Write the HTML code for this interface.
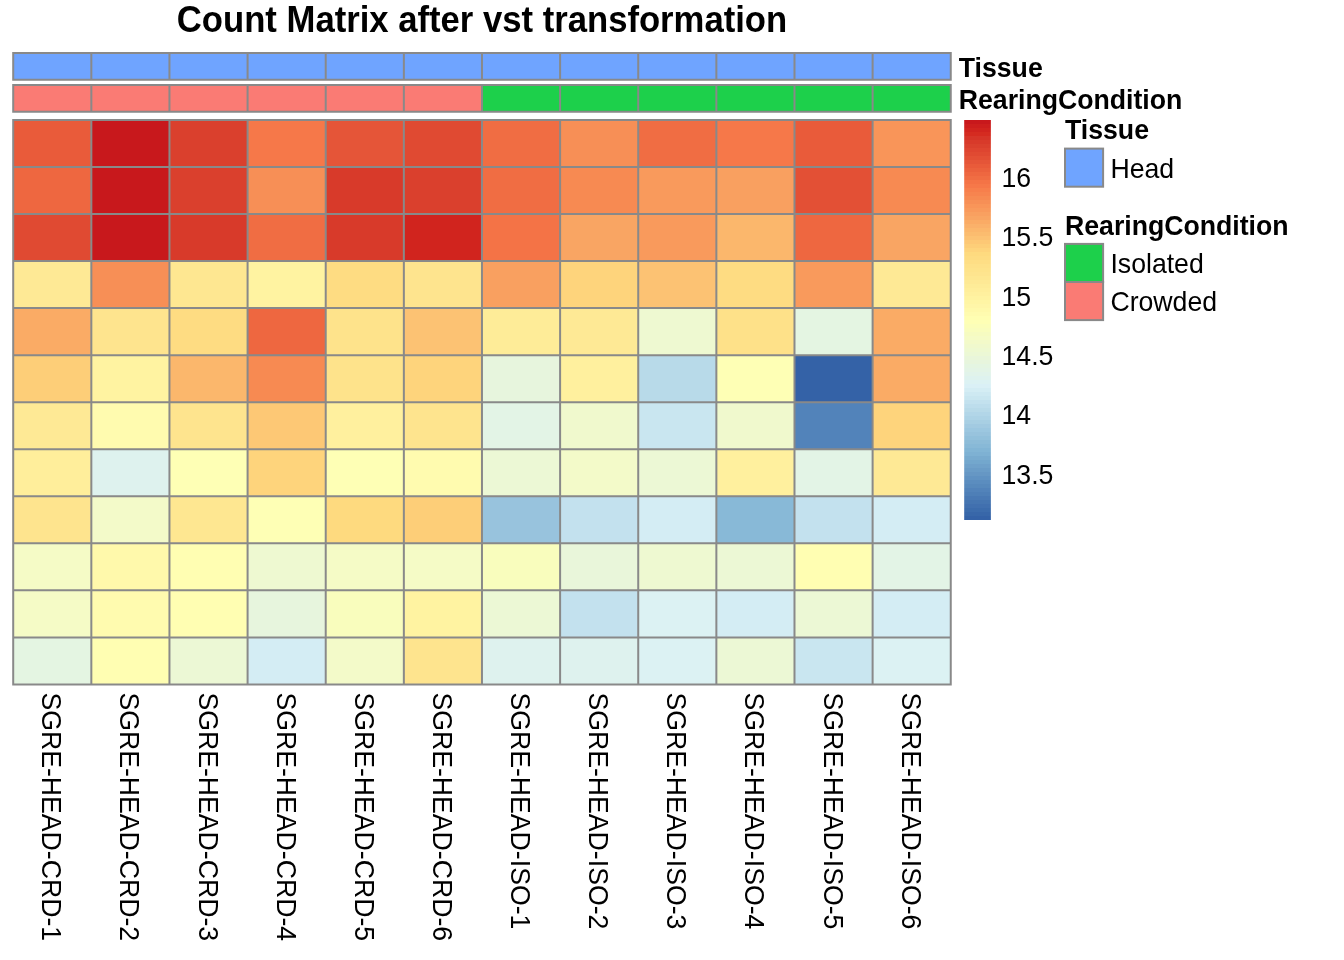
<!DOCTYPE html>
<html><head><meta charset="utf-8"><title>Count Matrix after vst transformation</title>
<style>html,body{margin:0;padding:0;background:#fff;}svg{display:block;will-change:transform;}text{font-family:"Liberation Sans",sans-serif;fill:#000;}</style></head><body>
<svg width="1344" height="960" viewBox="0 0 1344 960">
<rect x="0" y="0" width="1344" height="960" fill="#fff"/>
<text transform="translate(482.00 32.30) scale(1 1.05)" font-size="34.67" font-weight="bold" text-anchor="middle">Count Matrix after vst transformation</text>
<rect x="13.20" y="53.10" width="78.13" height="26.67" fill="#6FA4FF"/>
<rect x="13.20" y="85.10" width="78.13" height="26.67" fill="#FA7B74"/>
<rect x="91.33" y="53.10" width="78.13" height="26.67" fill="#6FA4FF"/>
<rect x="91.33" y="85.10" width="78.13" height="26.67" fill="#FA7B74"/>
<rect x="169.46" y="53.10" width="78.13" height="26.67" fill="#6FA4FF"/>
<rect x="169.46" y="85.10" width="78.13" height="26.67" fill="#FA7B74"/>
<rect x="247.59" y="53.10" width="78.13" height="26.67" fill="#6FA4FF"/>
<rect x="247.59" y="85.10" width="78.13" height="26.67" fill="#FA7B74"/>
<rect x="325.72" y="53.10" width="78.13" height="26.67" fill="#6FA4FF"/>
<rect x="325.72" y="85.10" width="78.13" height="26.67" fill="#FA7B74"/>
<rect x="403.85" y="53.10" width="78.13" height="26.67" fill="#6FA4FF"/>
<rect x="403.85" y="85.10" width="78.13" height="26.67" fill="#FA7B74"/>
<rect x="481.97" y="53.10" width="78.13" height="26.67" fill="#6FA4FF"/>
<rect x="481.97" y="85.10" width="78.13" height="26.67" fill="#1DD04B"/>
<rect x="560.10" y="53.10" width="78.13" height="26.67" fill="#6FA4FF"/>
<rect x="560.10" y="85.10" width="78.13" height="26.67" fill="#1DD04B"/>
<rect x="638.23" y="53.10" width="78.13" height="26.67" fill="#6FA4FF"/>
<rect x="638.23" y="85.10" width="78.13" height="26.67" fill="#1DD04B"/>
<rect x="716.36" y="53.10" width="78.13" height="26.67" fill="#6FA4FF"/>
<rect x="716.36" y="85.10" width="78.13" height="26.67" fill="#1DD04B"/>
<rect x="794.49" y="53.10" width="78.13" height="26.67" fill="#6FA4FF"/>
<rect x="794.49" y="85.10" width="78.13" height="26.67" fill="#1DD04B"/>
<rect x="872.62" y="53.10" width="78.13" height="26.67" fill="#6FA4FF"/>
<rect x="872.62" y="85.10" width="78.13" height="26.67" fill="#1DD04B"/>
<rect x="13.20" y="119.90" width="78.13" height="47.05" fill="#E95B3A"/>
<rect x="91.33" y="119.90" width="78.13" height="47.05" fill="#C8181C"/>
<rect x="169.46" y="119.90" width="78.13" height="47.05" fill="#DA402D"/>
<rect x="247.59" y="119.90" width="78.13" height="47.05" fill="#F67849"/>
<rect x="325.72" y="119.90" width="78.13" height="47.05" fill="#E55538"/>
<rect x="403.85" y="119.90" width="78.13" height="47.05" fill="#E04A32"/>
<rect x="481.97" y="119.90" width="78.13" height="47.05" fill="#F06D43"/>
<rect x="560.10" y="119.90" width="78.13" height="47.05" fill="#F78F56"/>
<rect x="638.23" y="119.90" width="78.13" height="47.05" fill="#F06D43"/>
<rect x="716.36" y="119.90" width="78.13" height="47.05" fill="#F67849"/>
<rect x="794.49" y="119.90" width="78.13" height="47.05" fill="#E95B3A"/>
<rect x="872.62" y="119.90" width="78.13" height="47.05" fill="#F99559"/>
<rect x="13.20" y="166.95" width="78.13" height="47.05" fill="#EE6740"/>
<rect x="91.33" y="166.95" width="78.13" height="47.05" fill="#C8181C"/>
<rect x="169.46" y="166.95" width="78.13" height="47.05" fill="#DA402D"/>
<rect x="247.59" y="166.95" width="78.13" height="47.05" fill="#F78F56"/>
<rect x="325.72" y="166.95" width="78.13" height="47.05" fill="#D83A2A"/>
<rect x="403.85" y="166.95" width="78.13" height="47.05" fill="#DA402D"/>
<rect x="481.97" y="166.95" width="78.13" height="47.05" fill="#F06D43"/>
<rect x="560.10" y="166.95" width="78.13" height="47.05" fill="#F78A52"/>
<rect x="638.23" y="166.95" width="78.13" height="47.05" fill="#F99A5C"/>
<rect x="716.36" y="166.95" width="78.13" height="47.05" fill="#F9A060"/>
<rect x="794.49" y="166.95" width="78.13" height="47.05" fill="#E35035"/>
<rect x="872.62" y="166.95" width="78.13" height="47.05" fill="#F78A52"/>
<rect x="13.20" y="213.99" width="78.13" height="47.05" fill="#E04A32"/>
<rect x="91.33" y="213.99" width="78.13" height="47.05" fill="#C8181C"/>
<rect x="169.46" y="213.99" width="78.13" height="47.05" fill="#D83A2A"/>
<rect x="247.59" y="213.99" width="78.13" height="47.05" fill="#F06D43"/>
<rect x="325.72" y="213.99" width="78.13" height="47.05" fill="#D83A2A"/>
<rect x="403.85" y="213.99" width="78.13" height="47.05" fill="#D1241E"/>
<rect x="481.97" y="213.99" width="78.13" height="47.05" fill="#F47346"/>
<rect x="560.10" y="213.99" width="78.13" height="47.05" fill="#F9A563"/>
<rect x="638.23" y="213.99" width="78.13" height="47.05" fill="#F99A5C"/>
<rect x="716.36" y="213.99" width="78.13" height="47.05" fill="#FBB76C"/>
<rect x="794.49" y="213.99" width="78.13" height="47.05" fill="#EE6740"/>
<rect x="872.62" y="213.99" width="78.13" height="47.05" fill="#F9A563"/>
<rect x="13.20" y="261.04" width="78.13" height="47.05" fill="#FEE995"/>
<rect x="91.33" y="261.04" width="78.13" height="47.05" fill="#F78F56"/>
<rect x="169.46" y="261.04" width="78.13" height="47.05" fill="#FEE791"/>
<rect x="247.59" y="261.04" width="78.13" height="47.05" fill="#FFF3A1"/>
<rect x="325.72" y="261.04" width="78.13" height="47.05" fill="#FEDC82"/>
<rect x="403.85" y="261.04" width="78.13" height="47.05" fill="#FEE48E"/>
<rect x="481.97" y="261.04" width="78.13" height="47.05" fill="#F9A060"/>
<rect x="560.10" y="261.04" width="78.13" height="47.05" fill="#FED47C"/>
<rect x="638.23" y="261.04" width="78.13" height="47.05" fill="#FCC273"/>
<rect x="716.36" y="261.04" width="78.13" height="47.05" fill="#FEDC82"/>
<rect x="794.49" y="261.04" width="78.13" height="47.05" fill="#F99A5C"/>
<rect x="872.62" y="261.04" width="78.13" height="47.05" fill="#FEE995"/>
<rect x="13.20" y="308.08" width="78.13" height="47.05" fill="#FAAB65"/>
<rect x="91.33" y="308.08" width="78.13" height="47.05" fill="#FEE48E"/>
<rect x="169.46" y="308.08" width="78.13" height="47.05" fill="#FEDC82"/>
<rect x="247.59" y="308.08" width="78.13" height="47.05" fill="#EE6740"/>
<rect x="325.72" y="308.08" width="78.13" height="47.05" fill="#FEE38B"/>
<rect x="403.85" y="308.08" width="78.13" height="47.05" fill="#FCC273"/>
<rect x="481.97" y="308.08" width="78.13" height="47.05" fill="#FEEC98"/>
<rect x="560.10" y="308.08" width="78.13" height="47.05" fill="#FEE995"/>
<rect x="638.23" y="308.08" width="78.13" height="47.05" fill="#EEF9D1"/>
<rect x="716.36" y="308.08" width="78.13" height="47.05" fill="#FEE189"/>
<rect x="794.49" y="308.08" width="78.13" height="47.05" fill="#E4F5E2"/>
<rect x="872.62" y="308.08" width="78.13" height="47.05" fill="#FAAB65"/>
<rect x="13.20" y="355.13" width="78.13" height="47.05" fill="#FDCE78"/>
<rect x="91.33" y="355.13" width="78.13" height="47.05" fill="#FFF3A1"/>
<rect x="169.46" y="355.13" width="78.13" height="47.05" fill="#FBB76C"/>
<rect x="247.59" y="355.13" width="78.13" height="47.05" fill="#F78A52"/>
<rect x="325.72" y="355.13" width="78.13" height="47.05" fill="#FEE38B"/>
<rect x="403.85" y="355.13" width="78.13" height="47.05" fill="#FED47C"/>
<rect x="481.97" y="355.13" width="78.13" height="47.05" fill="#E7F5DD"/>
<rect x="560.10" y="355.13" width="78.13" height="47.05" fill="#FFF09E"/>
<rect x="638.23" y="355.13" width="78.13" height="47.05" fill="#B8DAE9"/>
<rect x="716.36" y="355.13" width="78.13" height="47.05" fill="#FEFFB5"/>
<rect x="794.49" y="355.13" width="78.13" height="47.05" fill="#3462A7"/>
<rect x="872.62" y="355.13" width="78.13" height="47.05" fill="#FAAB65"/>
<rect x="13.20" y="402.18" width="78.13" height="47.05" fill="#FEE995"/>
<rect x="91.33" y="402.18" width="78.13" height="47.05" fill="#FFFBAF"/>
<rect x="169.46" y="402.18" width="78.13" height="47.05" fill="#FEE48E"/>
<rect x="247.59" y="402.18" width="78.13" height="47.05" fill="#FDC875"/>
<rect x="325.72" y="402.18" width="78.13" height="47.05" fill="#FFF09E"/>
<rect x="403.85" y="402.18" width="78.13" height="47.05" fill="#FEE48E"/>
<rect x="481.97" y="402.18" width="78.13" height="47.05" fill="#E3F4E6"/>
<rect x="560.10" y="402.18" width="78.13" height="47.05" fill="#F0F9CD"/>
<rect x="638.23" y="402.18" width="78.13" height="47.05" fill="#C9E6F0"/>
<rect x="716.36" y="402.18" width="78.13" height="47.05" fill="#F0F9CD"/>
<rect x="794.49" y="402.18" width="78.13" height="47.05" fill="#5283BA"/>
<rect x="872.62" y="402.18" width="78.13" height="47.05" fill="#FED47C"/>
<rect x="13.20" y="449.22" width="78.13" height="47.05" fill="#FFEE9B"/>
<rect x="91.33" y="449.22" width="78.13" height="47.05" fill="#DEF2EE"/>
<rect x="169.46" y="449.22" width="78.13" height="47.05" fill="#FEFFB5"/>
<rect x="247.59" y="449.22" width="78.13" height="47.05" fill="#FED47C"/>
<rect x="325.72" y="449.22" width="78.13" height="47.05" fill="#FEFFB5"/>
<rect x="403.85" y="449.22" width="78.13" height="47.05" fill="#FFFBAF"/>
<rect x="481.97" y="449.22" width="78.13" height="47.05" fill="#ECF8D5"/>
<rect x="560.10" y="449.22" width="78.13" height="47.05" fill="#F3FAC9"/>
<rect x="638.23" y="449.22" width="78.13" height="47.05" fill="#ECF8D5"/>
<rect x="716.36" y="449.22" width="78.13" height="47.05" fill="#FFF09E"/>
<rect x="794.49" y="449.22" width="78.13" height="47.05" fill="#E3F4E6"/>
<rect x="872.62" y="449.22" width="78.13" height="47.05" fill="#FEE995"/>
<rect x="13.20" y="496.27" width="78.13" height="47.05" fill="#FEE48E"/>
<rect x="91.33" y="496.27" width="78.13" height="47.05" fill="#F3FAC9"/>
<rect x="169.46" y="496.27" width="78.13" height="47.05" fill="#FEE791"/>
<rect x="247.59" y="496.27" width="78.13" height="47.05" fill="#FEFFB5"/>
<rect x="325.72" y="496.27" width="78.13" height="47.05" fill="#FEDA7F"/>
<rect x="403.85" y="496.27" width="78.13" height="47.05" fill="#FDCE78"/>
<rect x="481.97" y="496.27" width="78.13" height="47.05" fill="#98C3DD"/>
<rect x="560.10" y="496.27" width="78.13" height="47.05" fill="#C3E1EE"/>
<rect x="638.23" y="496.27" width="78.13" height="47.05" fill="#D4EDF4"/>
<rect x="716.36" y="496.27" width="78.13" height="47.05" fill="#88B9D7"/>
<rect x="794.49" y="496.27" width="78.13" height="47.05" fill="#C3E1EE"/>
<rect x="872.62" y="496.27" width="78.13" height="47.05" fill="#D4EDF4"/>
<rect x="13.20" y="543.31" width="78.13" height="47.05" fill="#F5FBC6"/>
<rect x="91.33" y="543.31" width="78.13" height="47.05" fill="#FFF9AB"/>
<rect x="169.46" y="543.31" width="78.13" height="47.05" fill="#FFFEB2"/>
<rect x="247.59" y="543.31" width="78.13" height="47.05" fill="#EEF9D1"/>
<rect x="325.72" y="543.31" width="78.13" height="47.05" fill="#F5FBC6"/>
<rect x="403.85" y="543.31" width="78.13" height="47.05" fill="#F5FBC6"/>
<rect x="481.97" y="543.31" width="78.13" height="47.05" fill="#F9FDBD"/>
<rect x="560.10" y="543.31" width="78.13" height="47.05" fill="#E9F6DA"/>
<rect x="638.23" y="543.31" width="78.13" height="47.05" fill="#EEF9D1"/>
<rect x="716.36" y="543.31" width="78.13" height="47.05" fill="#ECF8D5"/>
<rect x="794.49" y="543.31" width="78.13" height="47.05" fill="#FFFEB2"/>
<rect x="872.62" y="543.31" width="78.13" height="47.05" fill="#E3F4E6"/>
<rect x="13.20" y="590.36" width="78.13" height="47.05" fill="#F5FBC6"/>
<rect x="91.33" y="590.36" width="78.13" height="47.05" fill="#FFFBAF"/>
<rect x="169.46" y="590.36" width="78.13" height="47.05" fill="#FFFEB2"/>
<rect x="247.59" y="590.36" width="78.13" height="47.05" fill="#E7F5DD"/>
<rect x="325.72" y="590.36" width="78.13" height="47.05" fill="#F9FDBD"/>
<rect x="403.85" y="590.36" width="78.13" height="47.05" fill="#FFF3A1"/>
<rect x="481.97" y="590.36" width="78.13" height="47.05" fill="#ECF8D5"/>
<rect x="560.10" y="590.36" width="78.13" height="47.05" fill="#C3E1EE"/>
<rect x="638.23" y="590.36" width="78.13" height="47.05" fill="#DCF2F3"/>
<rect x="716.36" y="590.36" width="78.13" height="47.05" fill="#D4EDF4"/>
<rect x="794.49" y="590.36" width="78.13" height="47.05" fill="#ECF8D5"/>
<rect x="872.62" y="590.36" width="78.13" height="47.05" fill="#D4EDF4"/>
<rect x="13.20" y="637.40" width="78.13" height="47.05" fill="#E4F5E2"/>
<rect x="91.33" y="637.40" width="78.13" height="47.05" fill="#FFFEB2"/>
<rect x="169.46" y="637.40" width="78.13" height="47.05" fill="#ECF8D5"/>
<rect x="247.59" y="637.40" width="78.13" height="47.05" fill="#D4EDF4"/>
<rect x="325.72" y="637.40" width="78.13" height="47.05" fill="#F3FAC9"/>
<rect x="403.85" y="637.40" width="78.13" height="47.05" fill="#FEE48E"/>
<rect x="481.97" y="637.40" width="78.13" height="47.05" fill="#DEF2EE"/>
<rect x="560.10" y="637.40" width="78.13" height="47.05" fill="#DEF2EE"/>
<rect x="638.23" y="637.40" width="78.13" height="47.05" fill="#DCF2F3"/>
<rect x="716.36" y="637.40" width="78.13" height="47.05" fill="#ECF8D5"/>
<rect x="794.49" y="637.40" width="78.13" height="47.05" fill="#C9E6F0"/>
<rect x="872.62" y="637.40" width="78.13" height="47.05" fill="#DCF2F3"/>
<path d="M13.20 53.10H950.75 M13.20 79.77H950.75 M13.20 53.10V79.77 M91.33 53.10V79.77 M169.46 53.10V79.77 M247.59 53.10V79.77 M325.72 53.10V79.77 M403.85 53.10V79.77 M481.97 53.10V79.77 M560.10 53.10V79.77 M638.23 53.10V79.77 M716.36 53.10V79.77 M794.49 53.10V79.77 M872.62 53.10V79.77 M950.75 53.10V79.77 M13.20 85.10H950.75 M13.20 111.77H950.75 M13.20 85.10V111.77 M91.33 85.10V111.77 M169.46 85.10V111.77 M247.59 85.10V111.77 M325.72 85.10V111.77 M403.85 85.10V111.77 M481.97 85.10V111.77 M560.10 85.10V111.77 M638.23 85.10V111.77 M716.36 85.10V111.77 M794.49 85.10V111.77 M872.62 85.10V111.77 M950.75 85.10V111.77 M13.20 119.90H950.75 M13.20 166.95H950.75 M13.20 213.99H950.75 M13.20 261.04H950.75 M13.20 308.08H950.75 M13.20 355.13H950.75 M13.20 402.18H950.75 M13.20 449.22H950.75 M13.20 496.27H950.75 M13.20 543.31H950.75 M13.20 590.36H950.75 M13.20 637.40H950.75 M13.20 684.45H950.75 M13.20 119.90V684.45 M91.33 119.90V684.45 M169.46 119.90V684.45 M247.59 119.90V684.45 M325.72 119.90V684.45 M403.85 119.90V684.45 M481.97 119.90V684.45 M560.10 119.90V684.45 M638.23 119.90V684.45 M716.36 119.90V684.45 M794.49 119.90V684.45 M872.62 119.90V684.45 M950.75 119.90V684.45" stroke="#898989" stroke-width="2.00" fill="none" stroke-linecap="square"/>
<text transform="translate(958.75 76.90) scale(1 1.05)" font-size="26.67" font-weight="bold">Tissue</text>
<text transform="translate(958.75 108.90) scale(1 1.05)" font-size="26.67" font-weight="bold">RearingCondition</text>
<rect x="964.20" y="516.00" width="26.67" height="4.00" fill="#3462A7"/>
<rect x="964.20" y="512.00" width="26.67" height="4.00" fill="#3867A9"/>
<rect x="964.20" y="508.00" width="26.67" height="4.00" fill="#3C6CAC"/>
<rect x="964.20" y="504.00" width="26.67" height="4.00" fill="#4170AF"/>
<rect x="964.20" y="500.00" width="26.67" height="4.00" fill="#4575B1"/>
<rect x="964.20" y="496.00" width="26.67" height="4.00" fill="#4979B4"/>
<rect x="964.20" y="492.00" width="26.67" height="4.00" fill="#4E7FB7"/>
<rect x="964.20" y="488.00" width="26.67" height="4.00" fill="#5283BA"/>
<rect x="964.20" y="484.00" width="26.67" height="4.00" fill="#5789BC"/>
<rect x="964.20" y="480.00" width="26.67" height="4.00" fill="#5B8DBF"/>
<rect x="964.20" y="476.00" width="26.67" height="4.00" fill="#6092C2"/>
<rect x="964.20" y="472.00" width="26.67" height="4.00" fill="#6697C4"/>
<rect x="964.20" y="468.00" width="26.67" height="4.00" fill="#6A9CC7"/>
<rect x="964.20" y="464.00" width="26.67" height="4.00" fill="#6FA1CA"/>
<rect x="964.20" y="460.00" width="26.67" height="4.00" fill="#73A7CD"/>
<rect x="964.20" y="456.00" width="26.67" height="4.00" fill="#78ABCF"/>
<rect x="964.20" y="452.00" width="26.67" height="4.00" fill="#7EB1D3"/>
<rect x="964.20" y="448.00" width="26.67" height="4.00" fill="#82B5D5"/>
<rect x="964.20" y="444.00" width="26.67" height="4.00" fill="#88B9D7"/>
<rect x="964.20" y="440.00" width="26.67" height="4.00" fill="#8DBCD8"/>
<rect x="964.20" y="436.00" width="26.67" height="4.00" fill="#92C0DB"/>
<rect x="964.20" y="432.00" width="26.67" height="4.00" fill="#98C3DD"/>
<rect x="964.20" y="428.00" width="26.67" height="4.00" fill="#9CC7E0"/>
<rect x="964.20" y="424.00" width="26.67" height="4.00" fill="#A2CAE1"/>
<rect x="964.20" y="420.00" width="26.67" height="4.00" fill="#A8CFE3"/>
<rect x="964.20" y="416.00" width="26.67" height="4.00" fill="#ADD3E6"/>
<rect x="964.20" y="412.00" width="26.67" height="4.00" fill="#B2D6E8"/>
<rect x="964.20" y="408.00" width="26.67" height="4.00" fill="#B8DAE9"/>
<rect x="964.20" y="404.00" width="26.67" height="4.00" fill="#BDDDEC"/>
<rect x="964.20" y="400.00" width="26.67" height="4.00" fill="#C3E1EE"/>
<rect x="964.20" y="396.00" width="26.67" height="4.00" fill="#C9E6F0"/>
<rect x="964.20" y="392.00" width="26.67" height="4.00" fill="#CEE9F2"/>
<rect x="964.20" y="388.00" width="26.67" height="4.00" fill="#D4EDF4"/>
<rect x="964.20" y="384.00" width="26.67" height="4.00" fill="#DAF0F6"/>
<rect x="964.20" y="380.00" width="26.67" height="4.00" fill="#DCF2F3"/>
<rect x="964.20" y="376.00" width="26.67" height="4.00" fill="#DEF2EE"/>
<rect x="964.20" y="372.00" width="26.67" height="4.00" fill="#E1F3EA"/>
<rect x="964.20" y="368.00" width="26.67" height="4.00" fill="#E3F4E6"/>
<rect x="964.20" y="364.00" width="26.67" height="4.00" fill="#E4F5E2"/>
<rect x="964.20" y="360.00" width="26.67" height="4.00" fill="#E7F5DD"/>
<rect x="964.20" y="356.00" width="26.67" height="4.00" fill="#E9F6DA"/>
<rect x="964.20" y="352.00" width="26.67" height="4.00" fill="#ECF8D5"/>
<rect x="964.20" y="348.00" width="26.67" height="4.00" fill="#EEF9D1"/>
<rect x="964.20" y="344.00" width="26.67" height="4.00" fill="#F0F9CD"/>
<rect x="964.20" y="340.00" width="26.67" height="4.00" fill="#F3FAC9"/>
<rect x="964.20" y="336.00" width="26.67" height="4.00" fill="#F5FBC6"/>
<rect x="964.20" y="332.00" width="26.67" height="4.00" fill="#F6FBC1"/>
<rect x="964.20" y="328.00" width="26.67" height="4.00" fill="#F9FDBD"/>
<rect x="964.20" y="324.00" width="26.67" height="4.00" fill="#FBFEB9"/>
<rect x="964.20" y="320.00" width="26.67" height="4.00" fill="#FEFFB5"/>
<rect x="964.20" y="316.00" width="26.67" height="4.00" fill="#FFFEB2"/>
<rect x="964.20" y="312.00" width="26.67" height="4.00" fill="#FFFBAF"/>
<rect x="964.20" y="308.00" width="26.67" height="4.00" fill="#FFF9AB"/>
<rect x="964.20" y="304.00" width="26.67" height="4.00" fill="#FFF6A8"/>
<rect x="964.20" y="300.00" width="26.67" height="4.00" fill="#FFF5A4"/>
<rect x="964.20" y="296.00" width="26.67" height="4.00" fill="#FFF3A1"/>
<rect x="964.20" y="292.00" width="26.67" height="4.00" fill="#FFF09E"/>
<rect x="964.20" y="288.00" width="26.67" height="4.00" fill="#FFEE9B"/>
<rect x="964.20" y="284.00" width="26.67" height="4.00" fill="#FEEC98"/>
<rect x="964.20" y="280.00" width="26.67" height="4.00" fill="#FEE995"/>
<rect x="964.20" y="276.00" width="26.67" height="4.00" fill="#FEE791"/>
<rect x="964.20" y="272.00" width="26.67" height="4.00" fill="#FEE48E"/>
<rect x="964.20" y="268.00" width="26.67" height="4.00" fill="#FEE38B"/>
<rect x="964.20" y="264.00" width="26.67" height="4.00" fill="#FEE189"/>
<rect x="964.20" y="260.00" width="26.67" height="4.00" fill="#FEDE85"/>
<rect x="964.20" y="256.00" width="26.67" height="4.00" fill="#FEDC82"/>
<rect x="964.20" y="252.00" width="26.67" height="4.00" fill="#FEDA7F"/>
<rect x="964.20" y="248.00" width="26.67" height="4.00" fill="#FED47C"/>
<rect x="964.20" y="244.00" width="26.67" height="4.00" fill="#FDCE78"/>
<rect x="964.20" y="240.00" width="26.67" height="4.00" fill="#FDC875"/>
<rect x="964.20" y="236.00" width="26.67" height="4.00" fill="#FCC273"/>
<rect x="964.20" y="232.00" width="26.67" height="4.00" fill="#FBBC6F"/>
<rect x="964.20" y="228.00" width="26.67" height="4.00" fill="#FBB76C"/>
<rect x="964.20" y="224.00" width="26.67" height="4.00" fill="#FAB16A"/>
<rect x="964.20" y="220.00" width="26.67" height="4.00" fill="#FAAB65"/>
<rect x="964.20" y="216.00" width="26.67" height="4.00" fill="#F9A563"/>
<rect x="964.20" y="212.00" width="26.67" height="4.00" fill="#F9A060"/>
<rect x="964.20" y="208.00" width="26.67" height="4.00" fill="#F99A5C"/>
<rect x="964.20" y="204.00" width="26.67" height="4.00" fill="#F99559"/>
<rect x="964.20" y="200.00" width="26.67" height="4.00" fill="#F78F56"/>
<rect x="964.20" y="196.00" width="26.67" height="4.00" fill="#F78A52"/>
<rect x="964.20" y="192.00" width="26.67" height="4.00" fill="#F7844F"/>
<rect x="964.20" y="188.00" width="26.67" height="4.00" fill="#F77F4C"/>
<rect x="964.20" y="184.00" width="26.67" height="4.00" fill="#F67849"/>
<rect x="964.20" y="180.00" width="26.67" height="4.00" fill="#F47346"/>
<rect x="964.20" y="176.00" width="26.67" height="4.00" fill="#F06D43"/>
<rect x="964.20" y="172.00" width="26.67" height="4.00" fill="#EE6740"/>
<rect x="964.20" y="168.00" width="26.67" height="4.00" fill="#EB613D"/>
<rect x="964.20" y="164.00" width="26.67" height="4.00" fill="#E95B3A"/>
<rect x="964.20" y="160.00" width="26.67" height="4.00" fill="#E55538"/>
<rect x="964.20" y="156.00" width="26.67" height="4.00" fill="#E35035"/>
<rect x="964.20" y="152.00" width="26.67" height="4.00" fill="#E04A32"/>
<rect x="964.20" y="148.00" width="26.67" height="4.00" fill="#DE4530"/>
<rect x="964.20" y="144.00" width="26.67" height="4.00" fill="#DA402D"/>
<rect x="964.20" y="140.00" width="26.67" height="4.00" fill="#D83A2A"/>
<rect x="964.20" y="136.00" width="26.67" height="4.00" fill="#D63528"/>
<rect x="964.20" y="132.00" width="26.67" height="4.00" fill="#D52B20"/>
<rect x="964.20" y="128.00" width="26.67" height="4.00" fill="#D1241E"/>
<rect x="964.20" y="124.00" width="26.67" height="4.00" fill="#CD1E1D"/>
<rect x="964.20" y="120.00" width="26.67" height="4.00" fill="#C8181C"/>
<text transform="translate(1001.50 187.30) scale(1 1.05)" font-size="26.67">16</text>
<text transform="translate(1001.50 246.00) scale(1 1.05)" font-size="26.67">15.5</text>
<text transform="translate(1001.50 305.90) scale(1 1.05)" font-size="26.67">15</text>
<text transform="translate(1001.50 364.80) scale(1 1.05)" font-size="26.67">14.5</text>
<text transform="translate(1001.50 424.30) scale(1 1.05)" font-size="26.67">14</text>
<text transform="translate(1001.50 483.70) scale(1 1.05)" font-size="26.67">13.5</text>
<text transform="translate(1065.00 139.00) scale(1 1.05)" font-size="26.67" font-weight="bold">Tissue</text>
<rect x="1065.00" y="148.60" width="38.10" height="38.10" fill="#6FA4FF" stroke="#898989" stroke-width="2.00"/>
<text transform="translate(1110.40 177.90) scale(1 1.05)" font-size="26.67">Head</text>
<text transform="translate(1065.00 234.80) scale(1 1.05)" font-size="26.67" font-weight="bold">RearingCondition</text>
<rect x="1065.00" y="243.90" width="38.10" height="38.10" fill="#1DD04B" stroke="#898989" stroke-width="2.00"/>
<rect x="1065.00" y="282.00" width="38.10" height="38.10" fill="#FA7B74" stroke="#898989" stroke-width="2.00"/>
<text transform="translate(1110.40 272.90) scale(1 1.05)" font-size="26.67">Isolated</text>
<text transform="translate(1110.40 310.90) scale(1 1.05)" font-size="26.67">Crowded</text>
<text transform="translate(42.26 692.40) rotate(90) scale(1 1.05)" font-size="26.67">SGRE-HEAD-CRD-1</text>
<text transform="translate(120.39 692.40) rotate(90) scale(1 1.05)" font-size="26.67">SGRE-HEAD-CRD-2</text>
<text transform="translate(198.52 692.40) rotate(90) scale(1 1.05)" font-size="26.67">SGRE-HEAD-CRD-3</text>
<text transform="translate(276.65 692.40) rotate(90) scale(1 1.05)" font-size="26.67">SGRE-HEAD-CRD-4</text>
<text transform="translate(354.78 692.40) rotate(90) scale(1 1.05)" font-size="26.67">SGRE-HEAD-CRD-5</text>
<text transform="translate(432.91 692.40) rotate(90) scale(1 1.05)" font-size="26.67">SGRE-HEAD-CRD-6</text>
<text transform="translate(511.04 692.40) rotate(90) scale(1 1.05)" font-size="26.67">SGRE-HEAD-ISO-1</text>
<text transform="translate(589.17 692.40) rotate(90) scale(1 1.05)" font-size="26.67">SGRE-HEAD-ISO-2</text>
<text transform="translate(667.30 692.40) rotate(90) scale(1 1.05)" font-size="26.67">SGRE-HEAD-ISO-3</text>
<text transform="translate(745.43 692.40) rotate(90) scale(1 1.05)" font-size="26.67">SGRE-HEAD-ISO-4</text>
<text transform="translate(823.56 692.40) rotate(90) scale(1 1.05)" font-size="26.67">SGRE-HEAD-ISO-5</text>
<text transform="translate(901.69 692.40) rotate(90) scale(1 1.05)" font-size="26.67">SGRE-HEAD-ISO-6</text>
</svg></body></html>
